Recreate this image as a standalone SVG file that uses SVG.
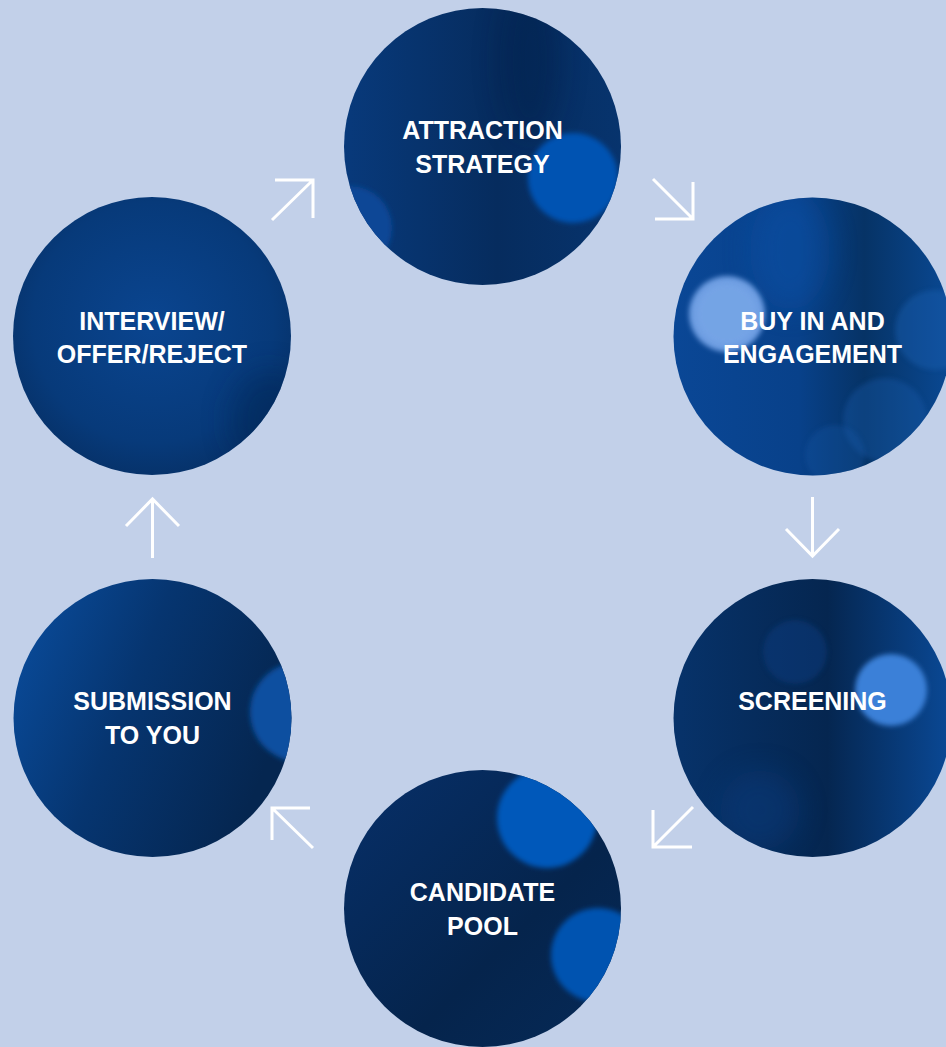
<svg xmlns="http://www.w3.org/2000/svg" width="946" height="1047" viewBox="0 0 946 1047">
  <style>
    .label { font-family: "Liberation Sans", Arial, sans-serif; font-weight: bold; font-size: 25px; fill: #ffffff; text-anchor: middle; }
    .arrow { fill: none; stroke: #ffffff; stroke-width: 3; stroke-linecap: butt; stroke-linejoin: miter; }
  </style>
  <defs>
    <filter id="soft" x="-50%" y="-50%" width="200%" height="200%">
      <feGaussianBlur stdDeviation="2.5"/>
    </filter>
    <filter id="haze" x="-50%" y="-50%" width="200%" height="200%">
      <feGaussianBlur stdDeviation="14"/>
    </filter>
    <clipPath id="c1"><circle cx="482.5" cy="146.5" r="138.5"/></clipPath>
    <clipPath id="c2"><circle cx="812.5" cy="336.5" r="139"/></clipPath>
    <clipPath id="c3"><circle cx="812.5" cy="718" r="139"/></clipPath>
    <clipPath id="c4"><circle cx="482.5" cy="908.5" r="138.5"/></clipPath>
    <clipPath id="c5"><circle cx="152.5" cy="718" r="139"/></clipPath>
    <clipPath id="c6"><circle cx="152" cy="336" r="139"/></clipPath>
    <linearGradient id="g1" x1="0" y1="0" x2="1" y2="0">
      <stop offset="0" stop-color="#083a7c"/>
      <stop offset="0.55" stop-color="#062c5e"/>
      <stop offset="1" stop-color="#07346e"/>
    </linearGradient>
    <linearGradient id="g2" x1="0" y1="0" x2="1" y2="0">
      <stop offset="0" stop-color="#0a4796"/>
      <stop offset="0.45" stop-color="#08418a"/>
      <stop offset="0.68" stop-color="#063366"/>
      <stop offset="1" stop-color="#0a4a96"/>
    </linearGradient>
    <linearGradient id="g3" x1="0" y1="0" x2="1" y2="0">
      <stop offset="0" stop-color="#07336b"/>
      <stop offset="0.55" stop-color="#052650"/>
      <stop offset="1" stop-color="#0a4a98"/>
    </linearGradient>
    <linearGradient id="g4" x1="0" y1="0" x2="1" y2="1">
      <stop offset="0" stop-color="#07306a"/>
      <stop offset="0.6" stop-color="#05244c"/>
      <stop offset="1" stop-color="#062a58"/>
    </linearGradient>
    <linearGradient id="g5" x1="0" y1="0" x2="1" y2="0.4">
      <stop offset="0" stop-color="#0a4fa2"/>
      <stop offset="0.5" stop-color="#063570"/>
      <stop offset="1" stop-color="#052650"/>
    </linearGradient>
    <radialGradient id="g6" cx="0.5" cy="0.45" r="0.6">
      <stop offset="0" stop-color="#0a4590"/>
      <stop offset="0.7" stop-color="#073a7a"/>
      <stop offset="1" stop-color="#062e62"/>
    </radialGradient>
  </defs>

  <rect width="946" height="1047" fill="#c2d0e9"/>

  <g id="node-attraction">
    <g clip-path="url(#c1)">
      <rect x="340" y="4" width="286" height="286" fill="url(#g1)"/>
      <ellipse cx="530" cy="60" rx="30" ry="80" fill="#041f44" opacity="0.4" filter="url(#haze)"/>
      <circle cx="350" cy="228" r="42" fill="#0a4796" filter="url(#soft)"/>
      <circle cx="573" cy="178" r="45" fill="#0553b2" filter="url(#soft)"/>
    </g>
    <text class="label" x="482.5" y="139">ATTRACTION</text>
    <text class="label" x="482.5" y="172.5">STRATEGY</text>
  </g>

  <g id="node-buyin">
    <g clip-path="url(#c2)">
      <rect x="670" y="194" width="286" height="286" fill="url(#g2)"/>
      <ellipse cx="790" cy="250" rx="40" ry="60" fill="#0b56b0" opacity="0.4" filter="url(#haze)"/>
      <circle cx="885" cy="420" r="42" fill="#1a5fb0" opacity="0.35" filter="url(#soft)"/>
      <circle cx="935" cy="330" r="40" fill="#1e64b6" opacity="0.4" filter="url(#soft)"/>
      <circle cx="835" cy="455" r="30" fill="#1756a4" opacity="0.35" filter="url(#soft)"/>
      <circle cx="727" cy="314" r="38" fill="#6d9de2" filter="url(#soft)"/>
      <circle cx="727" cy="314" r="31" fill="#7aa8e8" opacity="0.6" filter="url(#soft)"/>
    </g>
    <text class="label" x="812.5" y="329.5">BUY IN AND</text>
    <text class="label" x="812.5" y="363">ENGAGEMENT</text>
  </g>

  <g id="node-screening">
    <g clip-path="url(#c3)">
      <rect x="670" y="575" width="286" height="286" fill="url(#g3)"/>
      <circle cx="795" cy="652" r="32" fill="#0a3d80" opacity="0.5" filter="url(#soft)"/>
      <ellipse cx="760" cy="810" rx="40" ry="40" fill="#0a3f85" opacity="0.4" filter="url(#haze)"/>
      <circle cx="891" cy="690" r="36" fill="#3a80d8" filter="url(#soft)"/>
    </g>
    <text class="label" x="812.5" y="710">SCREENING</text>
  </g>

  <g id="node-candidate">
    <g clip-path="url(#c4)">
      <rect x="340" y="766" width="286" height="286" fill="url(#g4)"/>
      <circle cx="547" cy="818" r="50" fill="#0558ba" filter="url(#soft)"/>
      <circle cx="598" cy="955" r="47" fill="#0552b0" filter="url(#soft)"/>
    </g>
    <text class="label" x="482.5" y="901">CANDIDATE</text>
    <text class="label" x="482.5" y="935">POOL</text>
  </g>

  <g id="node-submission">
    <g clip-path="url(#c5)">
      <rect x="10" y="575" width="286" height="286" fill="url(#g5)"/>
      <circle cx="300" cy="712" r="50" fill="#0a4fa0" filter="url(#soft)"/>
    </g>
    <text class="label" x="152.5" y="710">SUBMISSION</text>
    <text class="label" x="152.5" y="744">TO YOU</text>
  </g>

  <g id="node-interview">
    <g clip-path="url(#c6)">
      <rect x="10" y="194" width="286" height="286" fill="url(#g6)"/>
      <ellipse cx="270" cy="420" rx="40" ry="50" fill="#052856" opacity="0.5" filter="url(#haze)"/>
    </g>
    <text class="label" x="152" y="329.5">INTERVIEW/</text>
    <text class="label" x="152" y="363">OFFER/REJECT</text>
  </g>

  <g id="connectors">
    <path class="arrow" d="M272,220 L313,180 M275,180 H313 V218"/>
    <path class="arrow" d="M653,179 L693,219 M693,182 V219 H655"/>
    <path class="arrow" d="M812.5,497 V556 M786,529 L812.5,556 L839,529"/>
    <path class="arrow" d="M693,807 L653,847 M653,810 V847 H692"/>
    <path class="arrow" d="M313,848 L272,808 M310,808 H272 V840"/>
    <path class="arrow" d="M152.5,558 V499 M126,526 L152.5,499 L179,526"/>
  </g>
</svg>
